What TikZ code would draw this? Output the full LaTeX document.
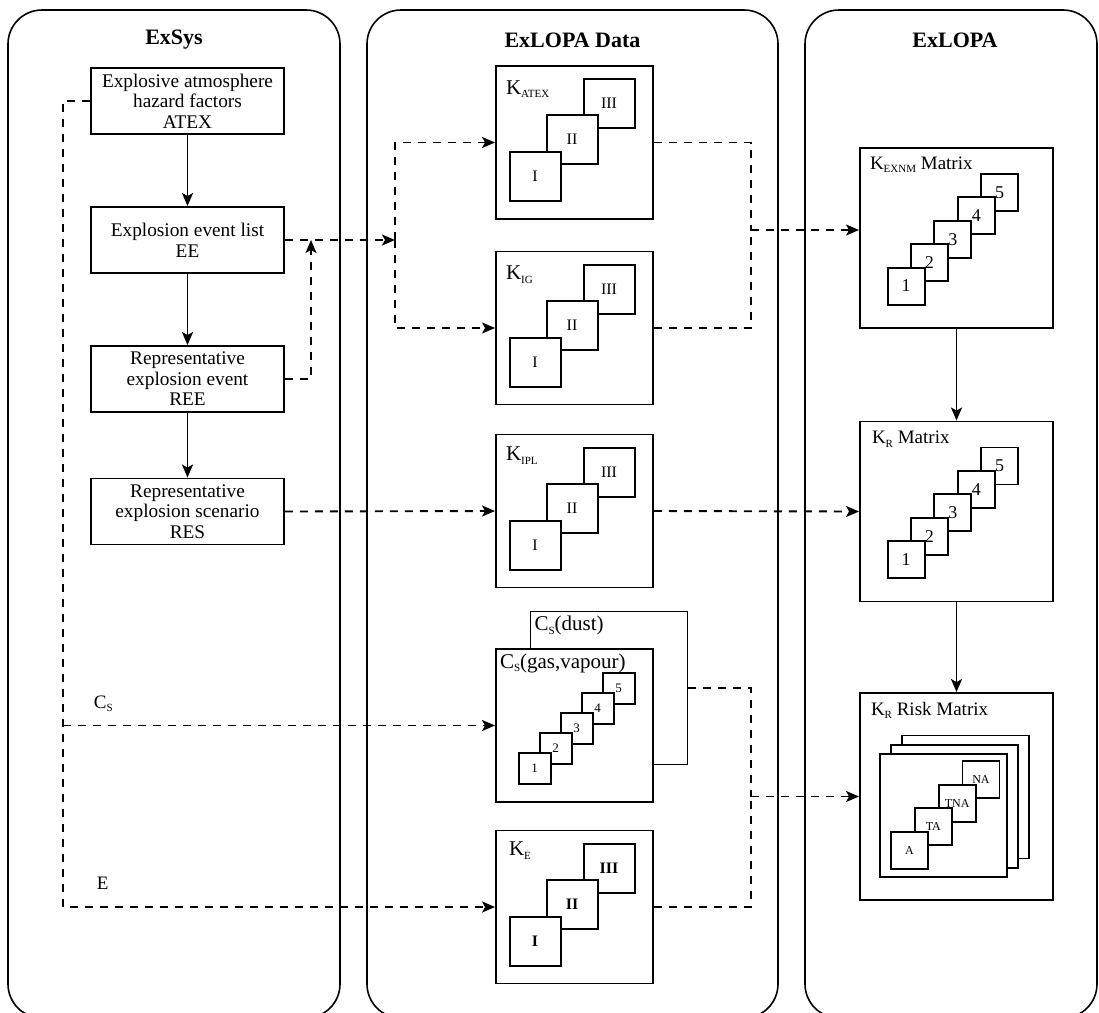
\documentclass[tikz,border=0pt]{standalone}
\usepackage{fontspec}
\setmainfont{Liberation Serif}
\usetikzlibrary{arrows.meta}

\begin{document}
\begin{tikzpicture}[x=1pt, y=-1pt, line width=1.9pt,
    >={Stealth[length=13pt, width=11pt, inset=3pt]},
    panel/.style={draw, line width=1.6pt, rounded corners=34pt},
    paneltitle/.style={inner sep=0pt, font=\fontsize{22}{26}\selectfont\bfseries},
    stepbox/.style={draw, fill=white, align=center, minimum width=193pt, minimum height=66pt, inner sep=0pt, font=\fontsize{19.3}{20.6}\selectfont},
    databox/.style={draw, fill=white, minimum width=157pt, minimum height=153pt, inner sep=0pt},
    matbox/.style={draw, fill=white, minimum width=193pt, minimum height=180pt, inner sep=0pt},
    boxtag/.style={anchor=base west, inner sep=0pt, font=\fontsize{21}{24}\selectfont},
    mattag/.style={anchor=base west, inner sep=0pt, font=\fontsize{19}{22}\selectfont},
    flowtag/.style={anchor=base west, inner sep=0pt, font=\fontsize{19}{22}\selectfont},
    romsq/.style={draw, fill=white, minimum width=51pt, minimum height=49pt, inner sep=0pt, font=\fontsize{16}{16}\selectfont},
    digsq/.style={draw, fill=white, minimum size=37pt, inner sep=0pt, font=\fontsize{18}{18}\selectfont},
    minisq/.style={draw, fill=white, minimum width=32pt, minimum height=31pt, inner sep=0pt, font=\fontsize{13}{13}\selectfont},
    sheet/.style={draw, fill=white, minimum width=127pt, minimum height=123pt, inner sep=0pt},
    risksq/.style={draw, fill=white, minimum size=37pt, inner sep=0pt, font=\fontsize{12}{12}\selectfont},
    dashline/.style={dash pattern=on 8pt off 7pt}
]
    % Subscript in the labels
    \def\Sub#1{\raisebox{-3.5pt}{\fontsize{11}{11}\selectfont #1}}

    \useasboundingbox (0,0) rectangle (1099,1012);
    \clip (0,0) rectangle (1099,1012);

    % Panels
    \draw[panel] (8,10) rectangle (340,1018);
    \draw[panel] (367,10) rectangle (778,1018);
    \draw[panel] (805,10) rectangle (1097,1018);
    \node[paneltitle] (t-exsys) at (174,40) {ExSys};
    \node[paneltitle] (t-data) at (572.5,40) {ExLOPA Data};
    \node[paneltitle] (t-exlopa) at (955,40) {ExLOPA};

    % ExSys steps
    \node[stepbox] (atex) at (187.5,101) {Explosive atmosphere\\hazard factors\\ATEX};
    \node[stepbox] (ee) at (187.5,240) {Explosion event list\\EE};
    \node[stepbox] (ree) at (187.5,379) {Representative\\explosion event\\REE};
    \node[stepbox] (res) at (187.5,511.5) {Representative\\explosion scenario\\RES};

    % ExLOPA data boxes
    \node[databox] (katex) at (574.5,142.5) {};
    \node[databox] (kig) at (574.5,328) {};
    \node[databox] (kipl) at (574.5,511) {};
    \node[databox] (dust) at (609,688) {};
    \node[databox] (gas) at (574.5,725.5) {};
    \node[databox] (ke) at (574.5,907) {};

    \node[boxtag] (katex-tag) at ([shift={(10,29)}]katex.north west) {K\Sub{ATEX}};
    \node[boxtag] (kig-tag) at ([shift={(10,29)}]kig.north west) {K\Sub{IG}};
    \node[boxtag] (kipl-tag) at ([shift={(10,27)}]kipl.north west) {K\Sub{IPL}};
    \node[boxtag] (ke-tag) at ([shift={(13,26)}]ke.north west) {K\Sub{E}};
    \node[boxtag] (dust-tag) at ([shift={(4,20)}]dust.north west) {C\Sub{S}(dust)};
    \node[boxtag] (gas-tag) at ([shift={(4,20)}]gas.north west) {C\Sub{S}(gas,vapour)};

    % Class squares, back to front
    \foreach \b in {katex,kig,kipl}
        \foreach \n/\dx/\dy in {III/114/38.5, II/77/74.5, I/40/111.5}
            \node[romsq] (\b-\n) at ([shift={(\dx,\dy)}]\b.north west) {\n};
    \foreach \n/\dx/\dy in {III/114/38.5, II/77/74.5, I/40/111.5}
        \node[romsq, font=\fontsize{16}{16}\selectfont\bfseries] (ke-\n) at ([shift={(\dx,\dy)}]ke.north west) {\n};
    \foreach \i in {5,4,3,2,1}
        \node[minisq] (gas-\i) at ([shift={({39.5+21*(\i-1)},{120.5-20*(\i-1)})}]gas.north west) {\i};

    % ExLOPA matrices
    \node[matbox] (kexnm) at (956.5,238) {};
    \node[matbox] (kr) at (956.5,511.5) {};
    \node[matbox, minimum height=207pt] (risk) at (956.5,796.5) {};

    \node[mattag] (kexnm-tag) at ([shift={(10,22)}]kexnm.north west) {K\Sub{EXNM} Matrix};
    \node[mattag] (kr-tag) at ([shift={(12,23)}]kr.north west) {K\Sub{R} Matrix};
    \node[mattag] (risk-tag) at ([shift={(11,23)}]risk.north west) {K\Sub{R} Risk Matrix};

    \foreach \b in {kexnm,kr}
        \foreach \i in {5,4,3,2,1}
            \node[digsq] (\b-\i) at ([shift={({47+23.4*(\i-1)},{139-23.4*(\i-1)})}]\b.north west) {\i};

    \foreach \k in {2,1,0}
        \node[sheet] (sheet-\k) at ([shift={({84.5+11*\k},{123.5-9.3*\k})}]risk.north west) {};
    \foreach \t/\k in {NA/3, TNA/2, TA/1, A/0}
        \node[risksq] (risk-\t) at ([shift={({50.5+23.8*\k},{158.5-23.7*\k})}]risk.north west) {\t};

    % Flow labels
    \node[flowtag] (cs-tag) at (93,708) {C\Sub{S}};
    \node[flowtag] (e-tag) at (96,889) {E};

    % Solid flow
    \draw[->] (atex) -- (ee);
    \draw[->] (ee) -- (ree);
    \draw[->] (ree) -- (res);
    \draw[->] (kexnm) -- (kr);
    \draw[->] (kr) -- (risk);

    % Dashed data links
    \coordinate (rise) at (311,240);
    \coordinate (split) at (395,240);
    \coordinate (feedx) at (63,0);
    \coordinate (joinA) at (751,230);
    \coordinate (joinB) at (751,796.5);

    \draw[dashline, ->] (ree.east) -| (rise);
    \draw[dashline, ->] (ee.east) -- (split);
    \draw[dashline, ->] (split) |- (katex.west);
    \draw[dashline, ->] (split) |- (kig.west);
    \draw[dashline] (katex.east) -| (joinA);
    \draw[dashline] (kig.east) -| (joinA);
    \draw[dashline, ->] (joinA) -- (joinA -| kexnm.west);

    \draw[dashline, ->] (res.east) -- (kipl.west);
    \draw[dashline, ->] (kipl.east) -- (kr.west);

    \draw[dashline, ->] (atex.west) -- (atex.west -| feedx) -- (feedx |- ke.west) -- (ke.west);
    \draw[dashline, ->] (feedx |- gas.west) -- (gas.west);

    \draw[dashline] (dust.east) -| (joinB);
    \draw[dashline] (ke.east) -| (joinB);
    \draw[dashline, ->] (joinB) -- (risk.west);
\end{tikzpicture}
\end{document}
